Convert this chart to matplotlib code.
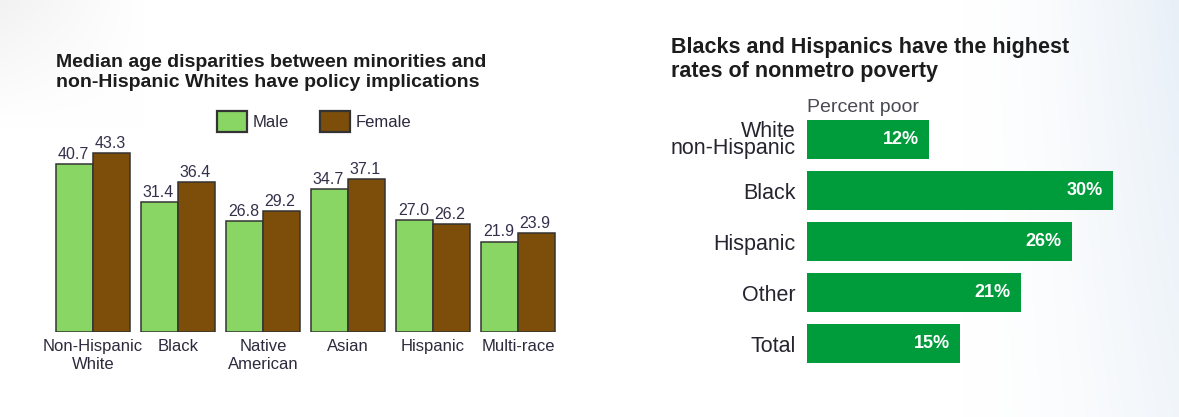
import numpy as np
import matplotlib
matplotlib.use("Agg")
import matplotlib.pyplot as plt
from matplotlib.patches import Patch

plt.rcParams['font.family'] = ['Liberation Sans', 'DejaVu Sans']

# ---------------- data ----------------
age_groups = ["Non-Hispanic\nWhite", "Black", "Native\nAmerican", "Asian", "Hispanic", "Multi-race"]
age_male   = [40.7, 31.4, 26.8, 34.7, 27.0, 21.9]
age_female = [43.3, 36.4, 29.2, 37.1, 26.2, 23.9]
series_names = ["Male", "Female"]

pov_groups = ["White\nnon-Hispanic", "Black", "Hispanic", "Other", "Total"]
pov_pct    = [12, 30, 26, 21, 15]

title_left  = "Median age disparities between minorities and\nnon-Hispanic Whites have policy implications"
title_right = "Blacks and Hispanics have the highest\nrates of nonmetro poverty"
pov_axis_label = "Percent poor"

GREEN_L, BROWN = "#89d664", "#7d4e0a"
GREEN_R = "#009b3a"
W, H = 1179, 417

fig = plt.figure(figsize=(W/100, H/100), dpi=100)
fig.patch.set_facecolor("white")

def px_axes(l, t, r, b, **kw):
    return fig.add_axes([l/W, 1-b/H, (r-l)/W, (b-t)/H], **kw)

# faint background shading (screenshot look)
bg = px_axes(0, 0, W, H, zorder=-5)
gx = np.linspace(0, 1, 200)
gy = np.linspace(0, 1, 80)[:, None]
right = np.clip((gx - 0.82) / 0.18, 0, 1) ** 1.5
tl = np.clip(1 - gx / 0.12, 0, 1) * np.clip(1 - gy / 0.3, 0, 1)
img = np.ones((80, 200, 3))
img -= right[None, :, None] * np.array([0.09, 0.06, 0.03]) * (1 - 0.4 * gy[..., None])
img -= tl[..., None] * 0.05
bg.imshow(img, aspect="auto", extent=(0, 1, 0, 1), interpolation="bilinear")
bg.axis("off")

# ---------------- left: median age ----------------
ax = px_axes(50.5, 139.9, 560.5, 332)
x = np.arange(len(age_groups))
bw = 0.43
b1 = ax.bar(x - bw/2, age_male, bw, color=GREEN_L, edgecolor="#333333", linewidth=1.1)
b2 = ax.bar(x + bw/2, age_female, bw, color=BROWN, edgecolor="#333333", linewidth=1.1)
for bars, vals in ((b1, age_male), (b2, age_female)):
    for r, v in zip(bars, vals):
        ax.annotate(f"{v:.1f}", (r.get_x() + r.get_width()/2, v), xytext=(-1, 1.5),
                    textcoords="offset points", ha="center", va="bottom",
                    fontsize=11.5, color="#34304a")
ax.set_xlim(-0.5, 5.5); ax.set_ylim(0, 46.5)
ax.set_xticks(x)
ax.set_xticklabels(age_groups, fontsize=12, color="#2c2a3c", linespacing=1.25)
ax.tick_params(axis="x", length=0, pad=5)
ax.set_yticks([])
for s in ax.spines.values(): s.set_visible(False)
ax.patch.set_alpha(0)

fig.text(56/W, 1-54/H, title_left, fontsize=14, fontweight="bold", color="#1c1c1c",
         va="top", ha="left", linespacing=1.2)
handles = [Patch(facecolor=GREEN_L, edgecolor="#333333", linewidth=1.6),
           Patch(facecolor=BROWN, edgecolor="#333333", linewidth=1.6)]
fig.legend(handles, series_names, loc="upper left", bbox_to_anchor=(217/W, 1-111/H),
           ncol=2, frameon=False, fontsize=12, borderpad=0, borderaxespad=0,
           handlelength=1.8, handleheight=1.55, handletextpad=0.36, columnspacing=1.85,
           labelcolor="#2c2a3c")

# ---------------- right: poverty ----------------
ax2 = px_axes(807, 114, 1150, 369)
y = np.arange(len(pov_groups))
bars = ax2.barh(y, pov_pct, height=0.775, color=GREEN_R, edgecolor="none")
for r, v in zip(bars, pov_pct):
    ax2.annotate(f"{v}%", (v, r.get_y() + r.get_height()/2), xytext=(-7.5, 0),
                 textcoords="offset points", ha="right", va="center",
                 fontsize=13, fontweight="bold", color="white")
ax2.set_xlim(0, 343/10.2); ax2.set_ylim(4.5, -0.5)
ax2.set_yticks(y)
ax2.set_yticklabels(pov_groups, fontsize=15.5, color="#26252f", linespacing=0.75)
ax2.tick_params(axis="y", length=0, pad=8)
ax2.set_xticks([])
for s in ax2.spines.values(): s.set_visible(False)
ax2.patch.set_alpha(0)

fig.text(671/W, 1-37/H, title_right, fontsize=15.5, fontweight="bold", color="#1c1c1c",
         va="top", ha="left", linespacing=1.18)
fig.text(807/W, 1-112/H, pov_axis_label, fontsize=14, color="#4a4a55", va="baseline", ha="left")

fig.savefig("out.png", dpi=100)
